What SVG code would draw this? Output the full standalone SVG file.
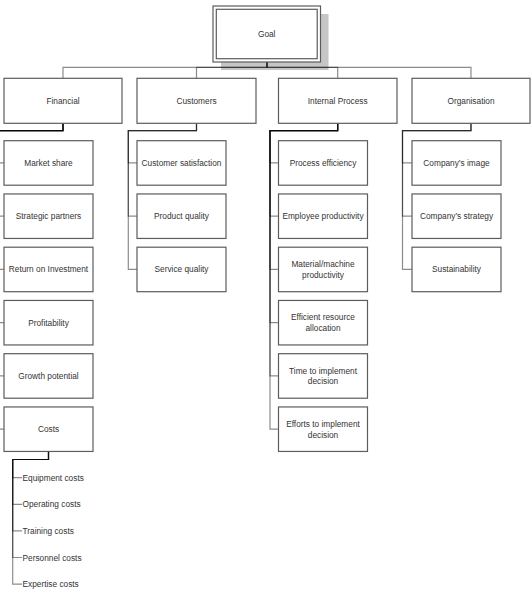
<svg xmlns="http://www.w3.org/2000/svg" width="532" height="599" viewBox="0 0 532 599">
<style>
.bg{fill:#ffffff}
.box{fill:#ffffff;stroke:#5c5c5c;stroke-width:1.2}
.c{fill:none;stroke:#000000;stroke-opacity:0.45;stroke-width:1.2}
.t{font-family:"Liberation Sans",Arial,sans-serif;font-size:8.3px;fill:#333333;text-anchor:middle}
.tl{font-family:"Liberation Sans",Arial,sans-serif;font-size:8.3px;fill:#333333;text-anchor:start}
.shadow{fill:#c6c6c6}
</style>
<rect class="bg" x="0" y="0" width="532" height="599"/>
<rect class="shadow" x="221" y="14" width="107.5" height="56"/>
<g id="connectors">
<path class="c" d="M267 62V67.3H63V78.3"/>
<path class="c" d="M267 62V67.3H196.5V78.3"/>
<path class="c" d="M267 62V67.3H337.7V78.3"/>
<path class="c" d="M267 62V67.3H471V78.3"/>
<path class="c" d="M63 123.3V130.7H-1V162.9H4"/>
<path class="c" d="M63 123.3V130.7H-1V216.2H4"/>
<path class="c" d="M63 123.3V130.7H-1V269.4H4"/>
<path class="c" d="M63 123.3V130.7H-1V322.7H4"/>
<path class="c" d="M63 123.3V130.7H-1V375.9H4"/>
<path class="c" d="M63 123.3V130.7H-1V429.2H4"/>
<path class="c" d="M196.5 123.3V130.7H128.3V162.9H137"/>
<path class="c" d="M196.5 123.3V130.7H128.3V216.2H137"/>
<path class="c" d="M196.5 123.3V130.7H128.3V269.4H137"/>
<path class="c" d="M337.7 123.3V130.7H270V162.9H278.5"/>
<path class="c" d="M337.7 123.3V130.7H270V216.2H278.5"/>
<path class="c" d="M337.7 123.3V130.7H270V269.4H278.5"/>
<path class="c" d="M337.7 123.3V130.7H270V322.7H278.5"/>
<path class="c" d="M337.7 123.3V130.7H270V375.9H278.5"/>
<path class="c" d="M337.7 123.3V130.7H270V429.2H278.5"/>
<path class="c" d="M471 123.3V130.7H402.5V162.9H412"/>
<path class="c" d="M471 123.3V130.7H402.5V216.2H412"/>
<path class="c" d="M471 123.3V130.7H402.5V269.4H412"/>
<path class="c" d="M48.5 451.4V459.5H12.7V477.7H22"/>
<path class="c" d="M48.5 451.4V459.5H12.7V504.3H22"/>
<path class="c" d="M48.5 451.4V459.5H12.7V530.9H22"/>
<path class="c" d="M48.5 451.4V459.5H12.7V557.5H22"/>
<path class="c" d="M48.5 451.4V459.5H12.7V584.1H22"/>
</g>
<g id="goal">
<rect class="box" x="213" y="6" width="107.5" height="56"/>
<rect class="box" x="216.3" y="9.3" width="100.9" height="49.4"/>
<text class="t" x="266.7" y="36.8">Goal</text>
</g>
<g id="financial"><rect class="box" x="4" y="78.3" width="118" height="45"/><text class="t" x="63" y="103.8">Financial</text></g>
<g id="customers"><rect class="box" x="137" y="78.3" width="119" height="45"/><text class="t" x="196.5" y="103.8">Customers</text></g>
<g id="internal-process"><rect class="box" x="278.5" y="78.3" width="118.5" height="45"/><text class="t" x="337.7" y="103.8">Internal Process</text></g>
<g id="organisation"><rect class="box" x="412" y="78.3" width="118" height="45"/><text class="t" x="471" y="103.8">Organisation</text></g>

<g id="market-share"><rect class="box" x="4" y="140.7" width="89" height="44.5"/><text class="t" x="48.5" y="165.9">Market share</text></g>
<g id="strategic-partners"><rect class="box" x="4" y="193.95" width="89" height="44.5"/><text class="t" x="48.5" y="219.2">Strategic partners</text></g>
<g id="return-on-investment"><rect class="box" x="4" y="247.2" width="89" height="44.5"/><text class="t" x="48.5" y="272.4">Return on Investment</text></g>
<g id="profitability"><rect class="box" x="4" y="300.45" width="89" height="44.5"/><text class="t" x="48.5" y="325.7">Profitability</text></g>
<g id="growth-potential"><rect class="box" x="4" y="353.7" width="89" height="44.5"/><text class="t" x="48.5" y="378.9">Growth potential</text></g>
<g id="costs"><rect class="box" x="4" y="406.95" width="89" height="44.5"/><text class="t" x="48.5" y="432.2">Costs</text></g>

<g id="customer-satisfaction"><rect class="box" x="137" y="140.7" width="89" height="44.5"/><text class="t" x="181.5" y="165.9">Customer satisfaction</text></g>
<g id="product-quality"><rect class="box" x="137" y="193.95" width="89" height="44.5"/><text class="t" x="181.5" y="219.2">Product quality</text></g>
<g id="service-quality"><rect class="box" x="137" y="247.2" width="89" height="44.5"/><text class="t" x="181.5" y="272.4">Service quality</text></g>

<g id="process-efficiency"><rect class="box" x="278.5" y="140.7" width="89" height="44.5"/><text class="t" x="323" y="165.9">Process efficiency</text></g>
<g id="employee-productivity"><rect class="box" x="278.5" y="193.95" width="89" height="44.5"/><text class="t" x="323" y="219.2">Employee productivity</text></g>
<g id="material-machine-productivity"><rect class="box" x="278.5" y="247.2" width="89" height="44.5"/><text class="t" x="323" y="267.2">Material/machine</text><text class="t" x="323" y="277.9">productivity</text></g>
<g id="efficient-resource-allocation"><rect class="box" x="278.5" y="300.45" width="89" height="44.5"/><text class="t" x="323" y="320.4">Efficient resource</text><text class="t" x="323" y="331.1">allocation</text></g>
<g id="time-to-implement-decision"><rect class="box" x="278.5" y="353.7" width="89" height="44.5"/><text class="t" x="323" y="373.7">Time to implement</text><text class="t" x="323" y="384.4">decision</text></g>
<g id="efforts-to-implement-decision"><rect class="box" x="278.5" y="406.95" width="89" height="44.5"/><text class="t" x="323" y="426.9">Efforts to implement</text><text class="t" x="323" y="437.6">decision</text></g>

<g id="companys-image"><rect class="box" x="412" y="140.7" width="89" height="44.5"/><text class="t" x="456.5" y="165.9">Company’s image</text></g>
<g id="companys-strategy"><rect class="box" x="412" y="193.95" width="89" height="44.5"/><text class="t" x="456.5" y="219.2">Company’s strategy</text></g>
<g id="sustainability"><rect class="box" x="412" y="247.2" width="89" height="44.5"/><text class="t" x="456.5" y="272.4">Sustainability</text></g>

<g id="equipment-costs"><text class="tl" x="22.5" y="480.7">Equipment costs</text></g>
<g id="operating-costs"><text class="tl" x="22.5" y="507.3">Operating costs</text></g>
<g id="training-costs"><text class="tl" x="22.5" y="533.9">Training costs</text></g>
<g id="personnel-costs"><text class="tl" x="22.5" y="560.5">Personnel costs</text></g>
<g id="expertise-costs"><text class="tl" x="22.5" y="587.1">Expertise costs</text></g>
</svg>
